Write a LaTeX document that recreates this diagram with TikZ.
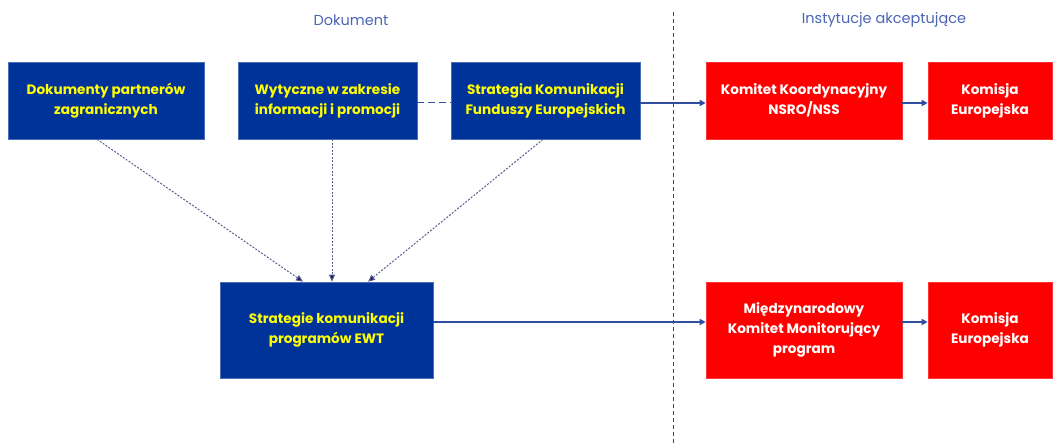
\documentclass[tikz,border=0pt]{standalone}
\usepackage{fontspec}
\setmainfont{Poppins}
\usetikzlibrary{arrows.meta,calc}
\definecolor{boxblue}{HTML}{003399}
\definecolor{boxred}{HTML}{FF0000}
\definecolor{txtyellow}{HTML}{FFFF00}
\definecolor{linkblue}{HTML}{2F4EA0}
\definecolor{headblue}{HTML}{4A64B4}
\definecolor{dotgray}{HTML}{5A5E8E}
\definecolor{tipnavy}{HTML}{14145E}
\definecolor{divblue}{HTML}{1E40B0}
\tikzset{
  bluebox/.style={fill=boxblue, draw=boxblue!70!white, line width=0.6pt, text=txtyellow, font=\fontsize{13.6}{20}\selectfont\bfseries, align=center, inner sep=0pt},
  redbox/.style={fill=boxred, draw=boxred!80!white, line width=0.6pt, text=white, font=\fontsize{13.6}{20}\selectfont\bfseries, align=center, inner sep=0pt},
  header/.style={text=headblue, font=\fontsize{14.5}{17}\selectfont},
  solidarrow/.style={draw=linkblue, line width=1.6pt, -{Triangle[length=6pt,width=6pt]}},
  dotarrow/.style={draw=dotgray, line width=1pt, dash pattern=on 2pt off 1.5pt, -{Triangle[length=7pt,width=6pt,fill=tipnavy]}},
  divider/.style={draw=divblue, line width=0.9pt, dash pattern=on 4pt off 3pt},
  linkdash/.style={draw=linkblue, line width=1pt, dash pattern=on 7pt off 4pt}
}
\begin{document}
\begin{tikzpicture}[x=1pt,y=-1pt]
\useasboundingbox (0,0) rectangle (1055,446);
% headers
\node[header] (hdoc) at (351,20) {Dokument};
\node[header] (hinst) at (884,20) {Instytucje akceptujące};
% divider
\coordinate (dtop) at (673,12);
\coordinate (dbot) at (673,446);
\draw[divider] (dtop) -- (dbot);
% top row
\node[bluebox, minimum width=196pt, minimum height=77pt] (b1) at (106,100.5) {Dokumenty partnerów\\zagranicznych};
\node[bluebox, minimum width=179pt, minimum height=77pt] (b2) at (327.5,100.5) {Wytyczne w zakresie\\informacji i promocji};
\node[bluebox, minimum width=189pt, minimum height=77pt] (b3) at (545.5,100.5) {Strategia Komunikacji\\Funduszy Europejskich};
\node[redbox, minimum width=196pt, minimum height=77pt] (r1) at (804,100.5) {Komitet Koordynacyjny\\NSRO/NSS};
\node[redbox, minimum width=124pt, minimum height=77pt] (r2) at (990,100.5) {Komisja\\Europejska};
% bottom row
\node[bluebox, minimum width=213pt, minimum height=96pt] (b4) at (326.5,330) {Strategie komunikacji\\programów EWT};
\node[redbox, minimum width=196pt, minimum height=96pt] (r3) at (804,330) {Międzynarodowy\\Komitet Monitorujący\\program};
\node[redbox, minimum width=124pt, minimum height=96pt] (r4) at (990,330) {Komisja\\Europejska};
% connectors
\draw[linkdash] ([yshift=-2.5pt]b2.east) -- ([yshift=-2.5pt]b3.west);
\draw[solidarrow] ([yshift=-2.5pt]b3.east) -- ([yshift=-2.5pt]r1.west);
\draw[solidarrow] ([yshift=-2.5pt]r1.east) -- ([yshift=-2.5pt]r2.west);
\draw[solidarrow] ([yshift=8pt]b4.east) -- ([yshift=8pt]r3.west);
\draw[solidarrow] ([yshift=8pt]r3.east) -- ([yshift=8pt]r4.west);
\draw[dotarrow] ([xshift=-9pt]b1.south) -- ([xshift=-23.5pt]b4.north);
\draw[dotarrow] ([xshift=4.5pt]b2.south) -- ([xshift=5.5pt]b4.north);
\draw[dotarrow] ([xshift=-2.5pt]b3.south) -- ([xshift=41.5pt]b4.north);
\end{tikzpicture}
\end{document}
